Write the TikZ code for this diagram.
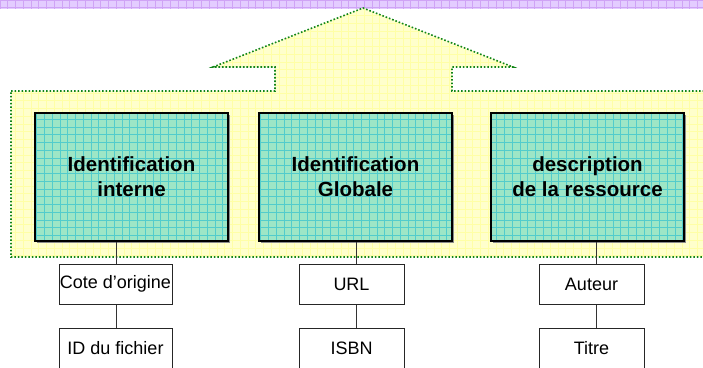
\documentclass[tikz,border=0pt]{standalone}
\usepackage{fontspec}
\setmainfont{Liberation Sans}
\usetikzlibrary{shadows}
\definecolor{boxgreen}{HTML}{9DE6C6}
\definecolor{gridgreen}{HTML}{52CCCC}
\definecolor{yel}{HTML}{FFFFCC}
\definecolor{gridyel}{HTML}{FFFFA6}
\definecolor{purp}{HTML}{E3CCFF}
\definecolor{gridpurp}{HTML}{CFA3F5}
\definecolor{dotgreen}{HTML}{11851A}
\begin{document}
\begin{tikzpicture}[x=1pt,y=-1pt,
  mainbox/.style={draw=black, line width=1.3pt, fill=boxgreen,
    minimum width=193pt, minimum height=128pt, inner sep=0pt, align=center,
    font=\bfseries\fontsize{20.5}{25}\selectfont,
    drop shadow={shadow xshift=1.5pt, shadow yshift=-1.5pt, fill=black!45, opacity=1},
    path picture={\draw[gridgreen, line width=0.7pt, step=7.75pt]
      (path picture bounding box.south west) grid (path picture bounding box.north east);}},
  subbox/.style={draw=black!85, line width=1pt, fill=white,
    minimum height=40pt, inner sep=0pt, align=center,
    font=\fontsize{18}{22}\selectfont,
    drop shadow={shadow xshift=1.2pt, shadow yshift=-1.2pt, fill=black!35, opacity=1}},
  link/.style={draw=black!80, line width=1pt},
  dotborder/.style={draw=dotgreen, line width=1.6pt, dash pattern=on 1.6pt off 1.9pt}
]
\useasboundingbox (0,0) rectangle (703,367);
% purple band
\begin{scope}
  \clip (0,0) rectangle (703,8.5);
  \fill[purp] (0,0) rectangle (703,8.5);
  \draw[gridpurp, line width=0.8pt, step=7.75pt] (0,0) grid (703,8.5);
\end{scope}
% yellow arrow shape
\begin{scope}
  \clip (11,91) -- (275,91) -- (275,67) -- (213,67) -- (363,8) -- (513,67) -- (452,67) -- (452,91) -- (712,91) -- (712,257) -- (11,257) -- cycle;
  \fill[yel] (0,0) rectangle (703,367);
  \draw[gridyel, line width=0.7pt, step=7.75pt] (0,0) grid (703,367);
\end{scope}
\draw[dotborder] (11,91) -- (275,91) -- (275,67) -- (213,67) -- (363,8) -- (513,67) -- (452,67) -- (452,91) -- (712,91) -- (712,257) -- (11,257) -- cycle;
% main boxes
\node[mainbox] (b1) at (131.5,177) {Identification\\interne};
\node[mainbox] (b2) at (355.5,177) {Identification\\Globale};
\node[mainbox] (b3) at (587.5,177) {description\\de la ressource};
% sub boxes
\node[subbox, minimum width=113pt] (cote) at (115.5,284) {Cote d’origine};
\node[subbox, minimum width=113pt] (idf) at (115.5,348) {ID du fichier};
\node[subbox, minimum width=105pt] (url) at (351.5,284) {URL};
\node[subbox, minimum width=105pt] (isbn) at (351.5,348) {ISBN};
\node[subbox, minimum width=105pt] (aut) at (591.5,284) {Auteur};
\node[subbox, minimum width=105pt] (tit) at (591.5,348) {Titre};
% connector x positions
\coordinate (c1) at (116,0);
\coordinate (c2) at (356,0);
\coordinate (c3) at (596,0);
\draw[link] (b1.south -| c1) -- (cote.north -| c1);
\draw[link] (cote.south -| c1) -- (idf.north -| c1);
\draw[link] (b2.south -| c2) -- (url.north -| c2);
\draw[link] (url.south -| c2) -- (isbn.north -| c2);
\draw[link] (b3.south -| c3) -- (aut.north -| c3);
\draw[link] (aut.south -| c3) -- (tit.north -| c3);
\end{tikzpicture}
\end{document}
